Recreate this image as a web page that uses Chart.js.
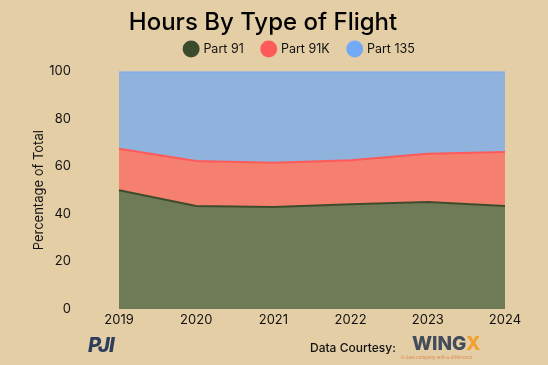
<!DOCTYPE html>
<html>
<head>
<meta charset="utf-8">
<script src="https://cdn.jsdelivr.net/npm/chart.js@4.4.1/dist/chart.umd.min.js"></script>
<style>
  html, body { margin: 0; padding: 0; }
  body { width: 548px; height: 365px; background: #e4cea6; position: relative; overflow: hidden; font-family: Inter, "Noto Sans", sans-serif; }
  #wrap { position: absolute; left: 0; top: 0; width: 548px; height: 365px; }
  .pji { position: absolute; left: 88px; top: 333px; font: italic 800 20px Inter, sans-serif; color: #2c3e5e; letter-spacing: -1px; }
  .courtesy { position: absolute; left: 310px; top: 340px; font: 500 12px Inter, sans-serif; color: #111; }
  .wingx { position: absolute; left: 412px; top: 332px; font: 800 19px Inter, sans-serif; color: #434c5a; letter-spacing: 0px; }
  .wingx span { color: #f2a030; }
  .tag { position: absolute; left: 401px; top: 355px; font: 4.5px Inter, sans-serif; color: #e08a50; }
</style>
</head>
<body>
<div id="wrap"><canvas id="chart1" width="548" height="365"></canvas></div>
<div class="pji">PJI</div>
<div class="courtesy">Data Courtesy:</div>
<div class="wingx">WING<span>X</span></div>
<div class="tag">A data company with a difference</div>
<script>
const years = ['2019', '2020', '2021', '2022', '2023', '2024'];
const part91 = [50.0, 43.4, 43.0, 44.1, 45.0, 43.4];
const part91K = [17.5, 18.9, 18.6, 18.5, 20.4, 22.7];
const part135 = [32.5, 37.7, 38.4, 37.4, 34.6, 33.9];
const legendColors = ['#3b4c2e', '#ff5a5a', '#74a9f6'];

// nudge title / legend sideways like the original image
const shiftBlocks = {
    id: 'shiftBlocks',
    afterLayout(chart) {
        chart.legend.left += 32;
        chart.legend.right += 32;
        chart.titleBlock.left -= 5;
        chart.titleBlock.right -= 5;
    }
};

const ctx = document.getElementById('chart1');
new Chart(ctx, {
    type: 'line',
    data: {
        labels: years,
        datasets: [{
            label: 'Part 91',
            data: part91,
            backgroundColor: '#6f7a57',
            borderColor: '#3d4d2c',
            borderWidth: 2,
            fill: 'origin'
        }, {
            label: 'Part 91K',
            data: part91K,
            backgroundColor: '#f5806f',
            borderColor: '#ff5a5a',
            borderWidth: 2,
            fill: '-1'
        }, {
            label: 'Part 135',
            data: part135,
            backgroundColor: '#90b3dd',
            borderColor: '#74a9f6',
            borderWidth: 2,
            fill: '-1'
        }]
    },
    plugins: [shiftBlocks],
    options: {
        responsive: false,
        animation: false,
        elements: { point: { radius: 0 }, line: { tension: 0 } },
        layout: { padding: { left: 31, right: 43, top: 8, bottom: 36 } },
        plugins: {
            title: {
                display: true,
                text: 'Hours By Type of Flight',
                color: '#000',
                font: { family: 'Inter', size: 24, weight: '500' },
                padding: { top: 0, bottom: -13 }
            },
            // empty spacer between legend and plot
            subtitle: {
                display: true,
                text: ' ',
                weight: 500,
                font: { size: 1 },
                padding: { top: 0, bottom: 5 }
            },
            legend: {
                labels: {
                    usePointStyle: true,
                    pointStyle: 'circle',
                    boxWidth: 12,
                    boxHeight: 12,
                    padding: 19,
                    color: '#111',
                    font: { family: 'Inter', size: 12.5 },
                    generateLabels: function (chart) {
                        return chart.data.datasets.map((ds, i) => ({
                            text: ds.label,
                            fillStyle: legendColors[i],
                            strokeStyle: legendColors[i],
                            lineWidth: 0,
                            pointStyle: 'circle',
                            datasetIndex: i,
                            fontColor: '#111'
                        }));
                    }
                }
            },
            tooltip: { enabled: false }
        },
        scales: {
            x: {
                grid: { display: false },
                border: { display: false },
                ticks: { color: '#111', font: { family: 'Inter', size: 13 }, maxRotation: 0, padding: -5 },
                afterFit: scale => { scale.height = 20; }
            },
            y: {
                stacked: true,
                min: 0,
                max: 100,
                grid: { display: false },
                border: { display: false },
                ticks: { stepSize: 20, color: '#111', font: { family: 'Inter', size: 13 }, padding: 40 },
                title: {
                    display: true,
                    text: 'Percentage of Total',
                    color: '#111',
                    font: { family: 'Inter', size: 13 },
                    padding: 0
                },
                afterFit: scale => { scale.width = 88; }
            }
        }
    }
});
</script>
</body>
</html>
